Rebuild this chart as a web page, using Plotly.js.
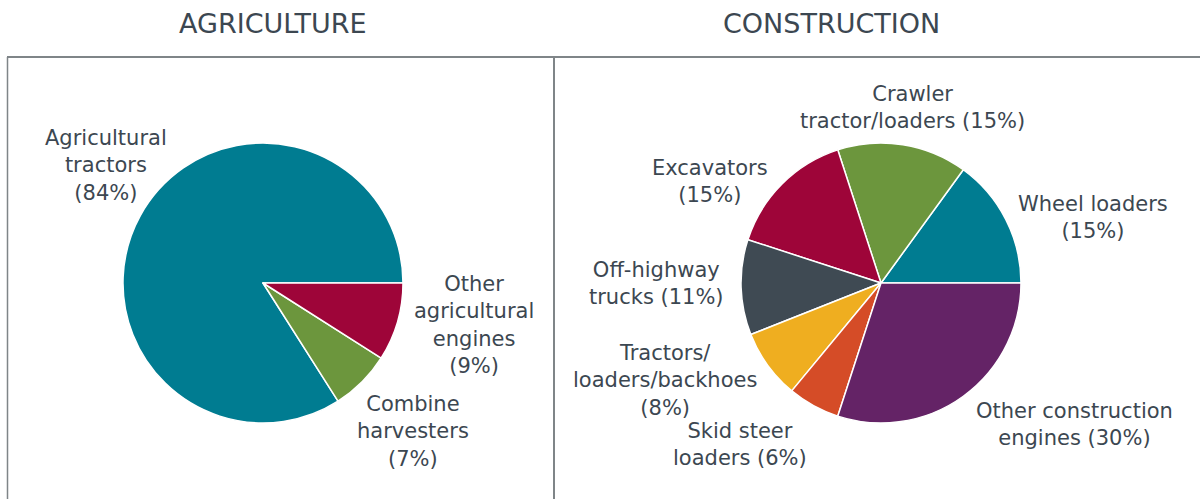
<!DOCTYPE html>
<html>
<head>
<meta charset="utf-8">
<script src="https://cdn.plot.ly/plotly-3.0.1.min.js"></script>
<style>html,body{margin:0;padding:0;background:#fff;}#chart{width:1200px;height:499px;}</style>
</head>
<body>
<div id="chart"></div>
<script>
// ---- Data ----
var agriCategories = ["Agricultural tractors", "Combine harvesters", "Other agricultural engines"];
var agriValues = [84, 7, 9];
var agriLabelLines = ["Agricultural<br>tractors<br>", "Combine<br>harvesters<br>", "Other<br>agricultural<br>engines<br>"];

var consCategories = ["Wheel loaders", "Crawler tractor/loaders", "Excavators", "Off-highway trucks",
                      "Tractors/loaders/backhoes", "Skid steer loaders", "Other construction engines"];
var consValues = [15, 15, 15, 11, 8, 6, 30];
var consLabelLines = ["Wheel loaders<br>", "Crawler<br>tractor/loaders ", "Excavators<br>", "Off-highway<br>trucks ",
                      "Tractors/<br>loaders/backhoes<br>", "Skid steer<br>loaders ", "Other construction<br>engines "];

var panelTitles = ["AGRICULTURE", "CONSTRUCTION"];

// ---- Style ----
var W = 1200, H = 499;
var textColor = "#3c4751";
var fontFam = "'DejaVu Sans', 'Open Sans', sans-serif";
var agriColors = ["#007c91", "#6c963d", "#9e0539"];
var consColors = ["#007c91", "#6c963d", "#9e0539", "#3f4a53", "#efae20", "#d54c27", "#642366"];

function px(x){ return x / W; }
function py(y){ return 1 - y / H; }

// label positions (pixels) for each slice label
var agriLabelPos = [[106, 165], [413, 431], [474, 325]];
var consLabelPos = [[1093, 217], [912, 107], [710, 181], [656, 283], [665, 380], [740, 444], [1074, 424]];

function sum(a){ var s = 0; for (var i = 0; i < a.length; i++) s += a[i]; return s; }

function pieTrace(cats, vals, colors, cx, cy, r) {
  // first slice starts at 3 o'clock and runs counterclockwise
  var rot = 90 - 360 * vals[0] / sum(vals);
  return {
    type: "pie",
    labels: cats,
    values: vals,
    sort: false,
    direction: "counterclockwise",
    rotation: rot,
    textinfo: "none",
    hoverinfo: "label+percent",
    marker: {colors: colors, line: {color: "#ffffff", width: 1.5}},
    domain: {x: [px(cx - r), px(cx + r)], y: [py(cy + r), py(cy - r)]},
    showlegend: false
  };
}

var data = [
  pieTrace(agriCategories, agriValues, agriColors, 263, 283, 140),
  pieTrace(consCategories, consValues, consColors, 881, 283, 140)
];

var annotations = [];
function addLabels(lines, vals, pos) {
  for (var i = 0; i < lines.length; i++) {
    annotations.push({
      x: px(pos[i][0]), y: py(pos[i][1]), xref: "paper", yref: "paper",
      xanchor: "center", yanchor: "middle", showarrow: false, align: "center",
      text: lines[i] + "(" + vals[i] + "%)",
      font: {family: fontFam, size: 21, color: textColor}
    });
  }
}
addLabels(agriLabelLines, agriValues, agriLabelPos);
addLabels(consLabelLines, consValues, consLabelPos);

var titleX = [273, 831];
for (var t = 0; t < panelTitles.length; t++) {
  annotations.push({
    x: px(titleX[t]), y: py(23), xref: "paper", yref: "paper",
    xanchor: "center", yanchor: "middle", showarrow: false,
    text: panelTitles[t],
    font: {family: fontFam, size: 27, color: textColor}
  });
}

var lineColor = "#7f8588";
var shapes = [
  {type: "line", xref: "paper", yref: "paper", x0: px(7), x1: px(1200), y0: py(57), y1: py(57), line: {color: lineColor, width: 2}},
  {type: "line", xref: "paper", yref: "paper", x0: px(7.5), x1: px(7.5), y0: py(57), y1: py(499), line: {color: lineColor, width: 1.5}},
  {type: "line", xref: "paper", yref: "paper", x0: px(554), x1: px(554), y0: py(57), y1: py(499), line: {color: lineColor, width: 2}}
];

var layout = {
  width: W, height: H,
  margin: {l: 0, r: 0, t: 0, b: 0},
  paper_bgcolor: "#ffffff",
  plot_bgcolor: "#ffffff",
  annotations: annotations,
  shapes: shapes,
  showlegend: false
};

Plotly.newPlot("chart", data, layout, {displayModeBar: false, staticPlot: true});
</script>
</body>
</html>
